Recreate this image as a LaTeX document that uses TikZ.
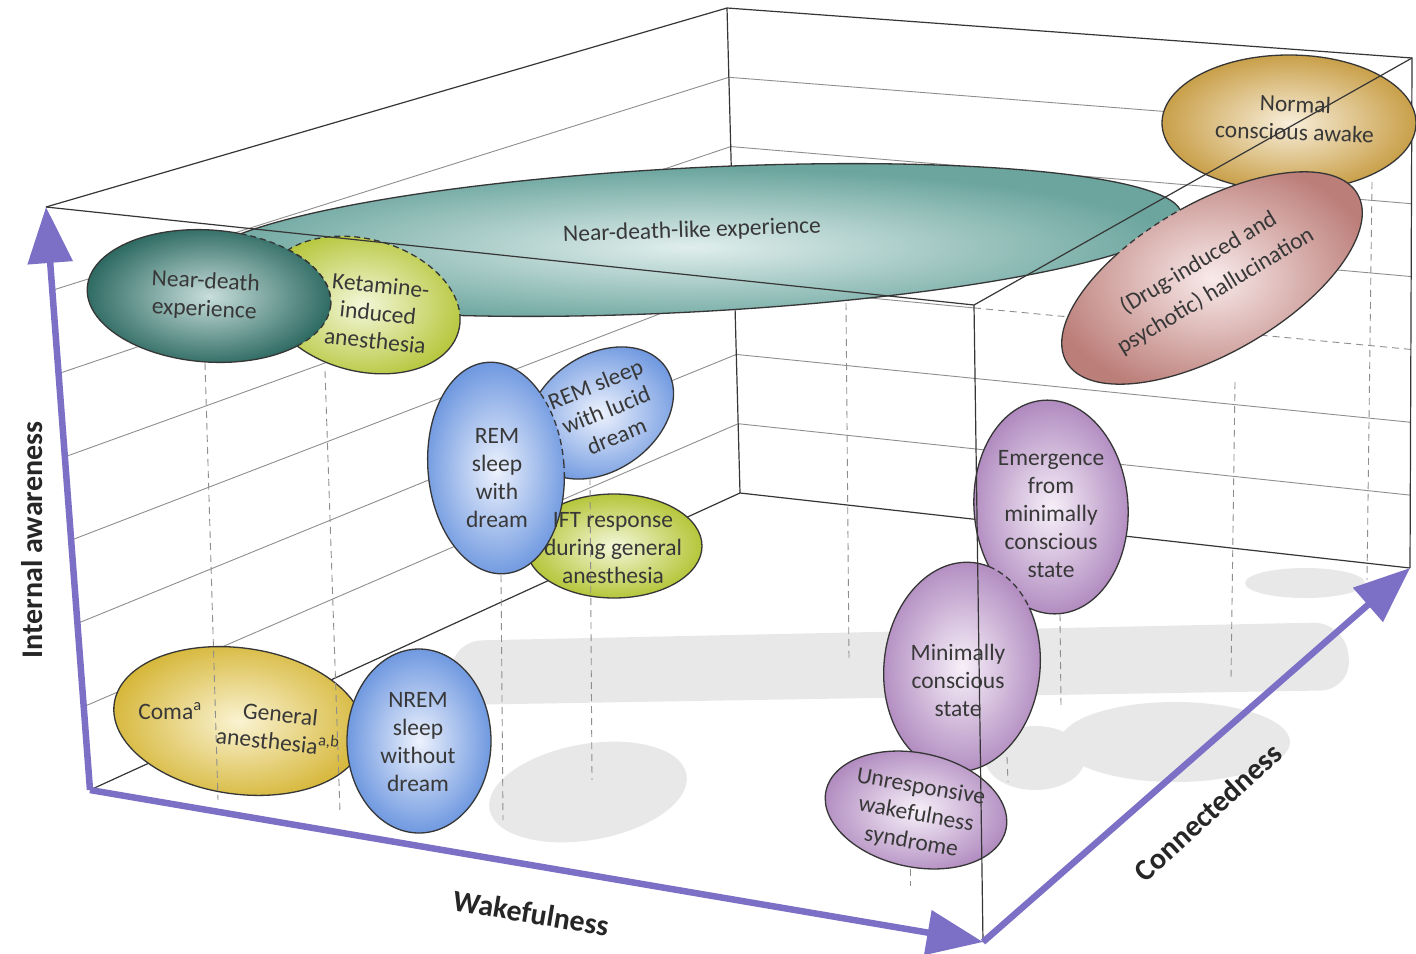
\documentclass[tikz,border=0pt]{standalone}
\usepackage{fontspec}
\setmainfont{Carlito}
\usetikzlibrary{arrows.meta,calc}

\definecolor{txt}{HTML}{383838}
\definecolor{edge}{HTML}{363636}
\definecolor{gridc}{HTML}{8E8E8E}
\definecolor{axisc}{HTML}{7B70C6}
\definecolor{shadowc}{HTML}{E8E8E8}
\definecolor{tealO}{HTML}{6BA59E}\definecolor{tealI}{HTML}{E0EEEC}
\definecolor{dtealO}{HTML}{2D6A62}\definecolor{dtealI}{HTML}{C8DEDB}
\definecolor{limeO}{HTML}{B5C63A}\definecolor{limeI}{HTML}{F4F7DA}
\definecolor{goldO}{HTML}{C9A04A}\definecolor{goldI}{HTML}{F8EEDA}
\definecolor{roseO}{HTML}{BC7E79}\definecolor{roseI}{HTML}{F8EAEA}
\definecolor{blueO}{HTML}{7099E0}\definecolor{blueI}{HTML}{EDF2FD}
\definecolor{yellO}{HTML}{D6B73A}\definecolor{yellI}{HTML}{FAF3D2}
\definecolor{purpO}{HTML}{B08ABF}\definecolor{purpI}{HTML}{F7F0F9}

\tikzset{
  bd/.style={draw=edge, line width=1.3pt},
  ovl/.style={draw=edge, line width=1.3pt, dash pattern=on 6pt off 4pt},
  gridline/.style={draw=gridc, line width=0.9pt},
  boxedge/.style={draw=edge, line width=1.2pt},
  dropline/.style={draw=gridc, line width=0.9pt, dash pattern=on 7pt off 5pt},
  axisarrow/.style={draw=axisc, line width=6.5pt, -{Triangle[length=56pt,width=44pt]}},
  lbl/.style={text=txt, font=\fontsize{23.5}{28}\selectfont, align=center, inner sep=0pt},
  lblwide/.style={text=txt, font=\fontsize{23.5}{33}\selectfont, align=center, inner sep=0pt},
  axlbl/.style={text=black!85, font=\fontsize{30}{34}\selectfont\bfseries, inner sep=0pt},
  shd/.style={fill=shadowc},
}

\newcommand{\shNDL}{{[shift={(690,240)},rotate=3] (0,0) ellipse [x radius=492, y radius=72]}}
\newcommand{\shND}{{[shift={(209,296)},rotate=-4] (0,0) ellipse [x radius=122, y radius=66]}}
\newcommand{\shK}{{[shift={(362,305)},rotate=-15] (0,0) ellipse [x radius=100, y radius=66]}}
\newcommand{\shN}{{[shift={(1289,123)},rotate=0] (0,0) ellipse [x radius=127, y radius=68]}}
\newcommand{\shH}{{[shift={(1212,278)},rotate=30] (0,0) ellipse [x radius=168, y radius=75]}}
\newcommand{\shR}{{[shift={(496,468)},rotate=5] (0,0) ellipse [x radius=68, y radius=106]}}
\newcommand{\shL}{{[shift={(600,413)},rotate=35] (0,0) ellipse [x radius=80, y radius=58]}}
\newcommand{\shI}{{[shift={(614,546)},rotate=0] (0,0) ellipse [x radius=88, y radius=52]}}
\newcommand{\shG}{{[shift={(239,721)},rotate=-8] (0,0) ellipse [x radius=126, y radius=73]}}
\newcommand{\shNR}{{[shift={(419,741)},rotate=0] (0,0) ellipse [x radius=72, y radius=92]}}
\newcommand{\shE}{{[shift={(1051,507)},rotate=4] (0,0) ellipse [x radius=77, y radius=107]}}
\newcommand{\shM}{{[shift={(962,667)},rotate=-6] (0,0) ellipse [x radius=78, y radius=105]}}
\newcommand{\shU}{{[shift={(916,810)},rotate=-12] (0,0) ellipse [x radius=92, y radius=57]}}
\newcommand{\outsideof}[1]{\clip (-50,-50) -- (-50,1050) -- (1500,1050) -- (1500,-50) -- cycle #1;}

\begin{document}
\begin{tikzpicture}[x=1pt,y=-1pt]
\useasboundingbox (0,0) rectangle (1416,953);
\fill[white] (0,0) rectangle (1416,953);

% box corners
\coordinate (FLB) at (90,790);
\coordinate (FRB) at (983,942);
\coordinate (BRB) at (1410,568);
\coordinate (BLB) at (740,493);
\coordinate (FLT) at (46,207);
\coordinate (FRT) at (974,305);
\coordinate (BRT) at (1412,58);
\coordinate (BLT) at (727,8);

% floor shadows
\fill[shd, rounded corners=32pt] (450,641) -- (1345,622) -- (1352,690) -- (452,705) -- cycle;
\fill[shd] (1175,742) ellipse [x radius=115, y radius=40];
\fill[shd] (1035,758) ellipse [x radius=50, y radius=32];
\fill[shd] (1305,583) ellipse [x radius=60, y radius=15];
\fill[shd] {[shift={(588,792)},rotate=10] (0,0) ellipse [x radius=100, y radius=48]};

% grid on the left and back walls
\foreach \k in {1,...,6}
  \draw[gridline] ($(FLT)!\k/7!(FLB)$) -- ($(BLT)!\k/7!(BLB)$);
\foreach \k in {1,2,3,5,6}
  \draw[gridline] ($(BLT)!\k/7!(BLB)$) -- ($(BRT)!\k/7!(BRB)$);
\coordinate (BL4) at ($(BLT)!4/7!(BLB)$);
\coordinate (BR4) at ($(BRT)!4/7!(BRB)$);
\coordinate (M4) at ($(BL4)!0.354!(BR4)$);
\draw[gridline] (BL4) -- (M4);
\draw[dropline] (M4) -- (BR4);

% hidden box edges
\draw[boxedge] (FLT) -- (BLT) -- (BRT) -- (BRB);
\draw[boxedge] (BLT) -- (BLB);
\draw[boxedge] (FLB) -- (BLB) -- (BRB);

% ---- ellipses ----
\shade[inner color=tealI, outer color=tealO] \shNDL;
\draw[bd] \shNDL;
\shade[inner color=limeI, outer color=limeO] \shK;
\begin{scope}[even odd rule]\outsideof{\shNDL}\draw[bd] \shK;\end{scope}
\begin{scope}\clip \shNDL;\draw[ovl] \shK;\end{scope}
\shade[inner color=dtealI, outer color=dtealO] \shND;
\begin{scope}[even odd rule]\outsideof{\shNDL}\outsideof{\shK}\draw[bd] \shND;\end{scope}
\begin{scope}\clip \shNDL;\draw[ovl] \shND;\end{scope}
\begin{scope}\clip \shK;\draw[ovl] \shND;\end{scope}
\shade[inner color=goldI, outer color=goldO] \shN;
\draw[bd] \shN;
\shade[inner color=roseI, outer color=roseO] \shH;
\begin{scope}[even odd rule]\outsideof{\shNDL}\draw[bd] \shH;\end{scope}
\begin{scope}\clip \shNDL;\draw[ovl] \shH;\end{scope}
\shade[inner color=limeI, outer color=limeO] \shI;
\draw[bd] \shI;
\shade[inner color=blueI, outer color=blueO] \shL;
\draw[bd] \shL;
\shade[inner color=blueI, outer color=blueO] \shR;
\begin{scope}[even odd rule]\outsideof{\shL}\draw[bd] \shR;\end{scope}
\begin{scope}\clip \shL;\draw[ovl] \shR;\end{scope}
\shade[inner color=yellI, outer color=yellO] \shG;
\draw[bd] \shG;
\shade[inner color=blueI, outer color=blueO] \shNR;
\draw[bd] \shNR;
\shade[inner color=purpI, outer color=purpO] \shE;
\draw[bd] \shE;
\shade[inner color=purpI, outer color=purpO] \shM;
\begin{scope}[even odd rule]\outsideof{\shE}\draw[bd] \shM;\end{scope}
\begin{scope}\clip \shE;\draw[ovl] \shM;\end{scope}
\shade[inner color=purpI, outer color=purpO] \shU;
\draw[bd] \shU;

% drop lines
\coordinate (d1a) at (205,363); \coordinate (d1b) at (218,800);
\coordinate (d2a) at (325,371); \coordinate (d2b) at (340,812);
\coordinate (d3a) at (501,575); \coordinate (d3b) at (503,820);
\coordinate (d4a) at (590,478); \coordinate (d4b) at (592,780);
\coordinate (d5a) at (846,303); \coordinate (d5b) at (849,660);
\coordinate (d6a) at (1235,382); \coordinate (d6b) at (1231,678);
\coordinate (d7a) at (1372,182); \coordinate (d7b) at (1367,580);
\coordinate (d8a) at (1060,614); \coordinate (d8b) at (1061,707);
\coordinate (d9a) at (1007,757); \coordinate (d9b) at (1008,782);
\coordinate (d10a) at (910,869); \coordinate (d10b) at (910,886);
\foreach \i in {1,...,10} \draw[dropline] (d\i a) -- (d\i b);

% front box edges
\draw[boxedge] (FLT) -- (FRT) -- (BRT);
\draw[boxedge] (FRT) -- (FRB);

% axes
\draw[axisarrow] (FLB) -- (FLT);
\draw[axisarrow] (FLB) -- (FRB);
\draw[axisarrow] (FRB) -- (BRB);

% labels
\node[lbl, rotate=2] (tNDL) at (692,231) {Near-death-like experience};
\node[lbl, rotate=-3] (tND) at (205,296) {Near-death\\experience};
\node[lbl, rotate=-6] (tK) at (378,313) {Ketamine-\\induced\\anesthesia};
\node[lbl, rotate=-2] (tN) at (1295,118) {Normal\\conscious awake};
\node[lblwide, rotate=31] (tH) at (1207,277) {(Drug-induced and\\psychotic) hallucination};
\node[lbl] (tR) at (497,478) {REM\\sleep\\with\\dream};
\node[lbl, rotate=22] (tL) at (606,410) {REM sleep\\with lucid\\dream};
\node[lbl] (tI) at (613,548) {IFT response\\during general\\anesthesia};
\node[lbl] (tE) at (1051,514) {Emergence\\from\\minimally\\conscious\\state};
\node[lbl] (tM) at (958,680) {Minimally\\conscious\\state};
\node[lbl, rotate=-10] (tU) at (916,815) {Unresponsive\\wakefulness\\syndrome};
\node[lbl] (tNR) at (418,742) {NREM\\sleep\\without\\dream};
\node[lbl] (tC) at (170,711) {Coma\textsuperscript{a}};
\node[lbl, rotate=-6] (tG) at (279,728) {General\\anesthesia\textsuperscript{a,b}};

\node[axlbl, rotate=90] (aIA) at (32,540) {Internal awareness};
\node[axlbl, rotate=-9.6] (aW) at (531,913) {Wakefulness};
\node[axlbl, rotate=42.6] (aC) at (1208,812) {Connectedness};
\end{tikzpicture}
\end{document}
